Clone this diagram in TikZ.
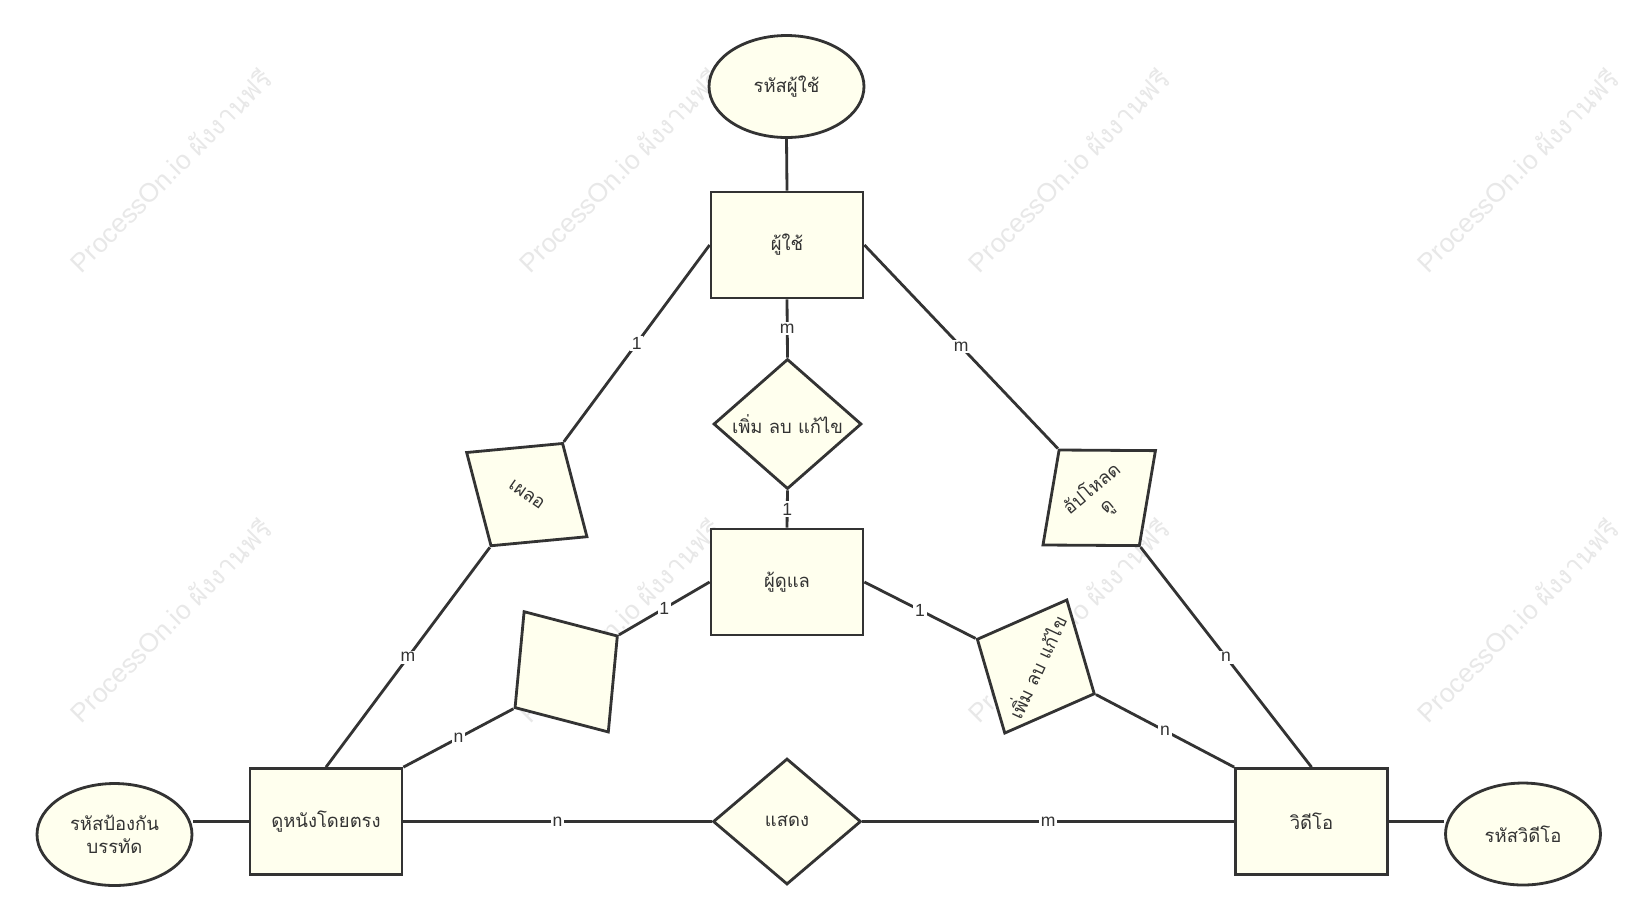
\documentclass[tikz,border=0pt]{standalone}
\usepackage{fontspec}
\setmainfont{Liberation Sans}
\newfontfamily\thaifont[Script=Thai]{Loma}
\usetikzlibrary{shapes.geometric}

\definecolor{cream}{RGB}{255,255,238}
\definecolor{ink}{RGB}{51,51,51}
\tikzset{
  ent/.style={draw=ink, fill=cream, line width=1.6pt, minimum width=3.04cm,
    minimum height=2.12cm, inner sep=0pt, text=ink, align=center,
    font=\thaifont\fontsize{10.5}{13}\selectfont},
  attr/.style={ent, ellipse, minimum width=3.1cm, minimum height=2.04cm},
  rel/.style={ent, diamond, minimum width=2.96cm, minimum height=2.52cm},
  link/.style={draw=ink, line width=1.6pt},
  lbl/.style={fill=white, inner sep=1pt, text=ink, font=\fontsize{10}{11}\selectfont},
  wmark/.style={rotate=45, text=black!9, font=\fontsize{15}{17}\selectfont}
}

\begin{document}
\begin{tikzpicture}[x=0.02cm,y=-0.02cm]
\fill[white] (0,0) rectangle (1638,921);
% watermark
\foreach \x in {170,619,1068,1517}{
  \foreach \y in {170,620}{
    \node[wmark] at (\x,\y) {ProcessOn.io {\thaifont ผังงานฟรี}};
  }
}
% entities
\node[ent] (user) at (787,245) {ผู้ใช้};
\node[ent] (admin) at (787,582) {ผู้ดูแล};
\node[ent] (watch) at (326,821.5) {ดูหนังโดยตรง};
\node[ent] (video) at (1311.5,821.5) {วิดีโอ};
% attributes
\node[attr] (uid) at (786.5,86.5) {รหัสผู้ใช้};
\node[attr] (lockey) at (114.5,834.5) {รหัสป้องกัน\\บรรทัด};
\node[attr] (vidkey) at (1523,834) {รหัสวิดีโอ};
% relations
\node[rel] (manage) at (787.5,424) {เพิ่ม ลบ แก้ไข};
\node[rel] (show) at (787,821.5) {แสดง};
\node[rel, rotate=-35] (slip) at (526.8,494.6) {เผลอ};
\node[rel, rotate=40] (upload) at (1099.2,497.8) {อัปโหลด\\ดู};
\node[rel, rotate=-55] (blank) at (566.2,671.8) {};
\node[rel, rotate=65] (edit) at (1035.8,666.5) {เพิ่ม ลบ แก้ไข};
% connectors
\draw[link] (uid.south) -- (user.north);
\draw[link] (lockey.east |- watch.west) -- (watch.west);
\draw[link] (video.east) -- (vidkey.west |- video.east);
\foreach \a/\b/\t in {user.west/slip.north/1, slip.south/watch.north/m,
    user.south/manage.north/m, manage.south/admin.north/1,
    user.east/upload.north/m, upload.south/video.north/n,
    admin.west/blank.north/1, blank.south/watch.north east/n,
    admin.east/edit.north/1, edit.south/video.north west/n,
    watch.east/show.west/n, show.east/video.west/m}{
  \draw[link] (\a) -- node[lbl] {\t} (\b);
}
\end{tikzpicture}
\end{document}
